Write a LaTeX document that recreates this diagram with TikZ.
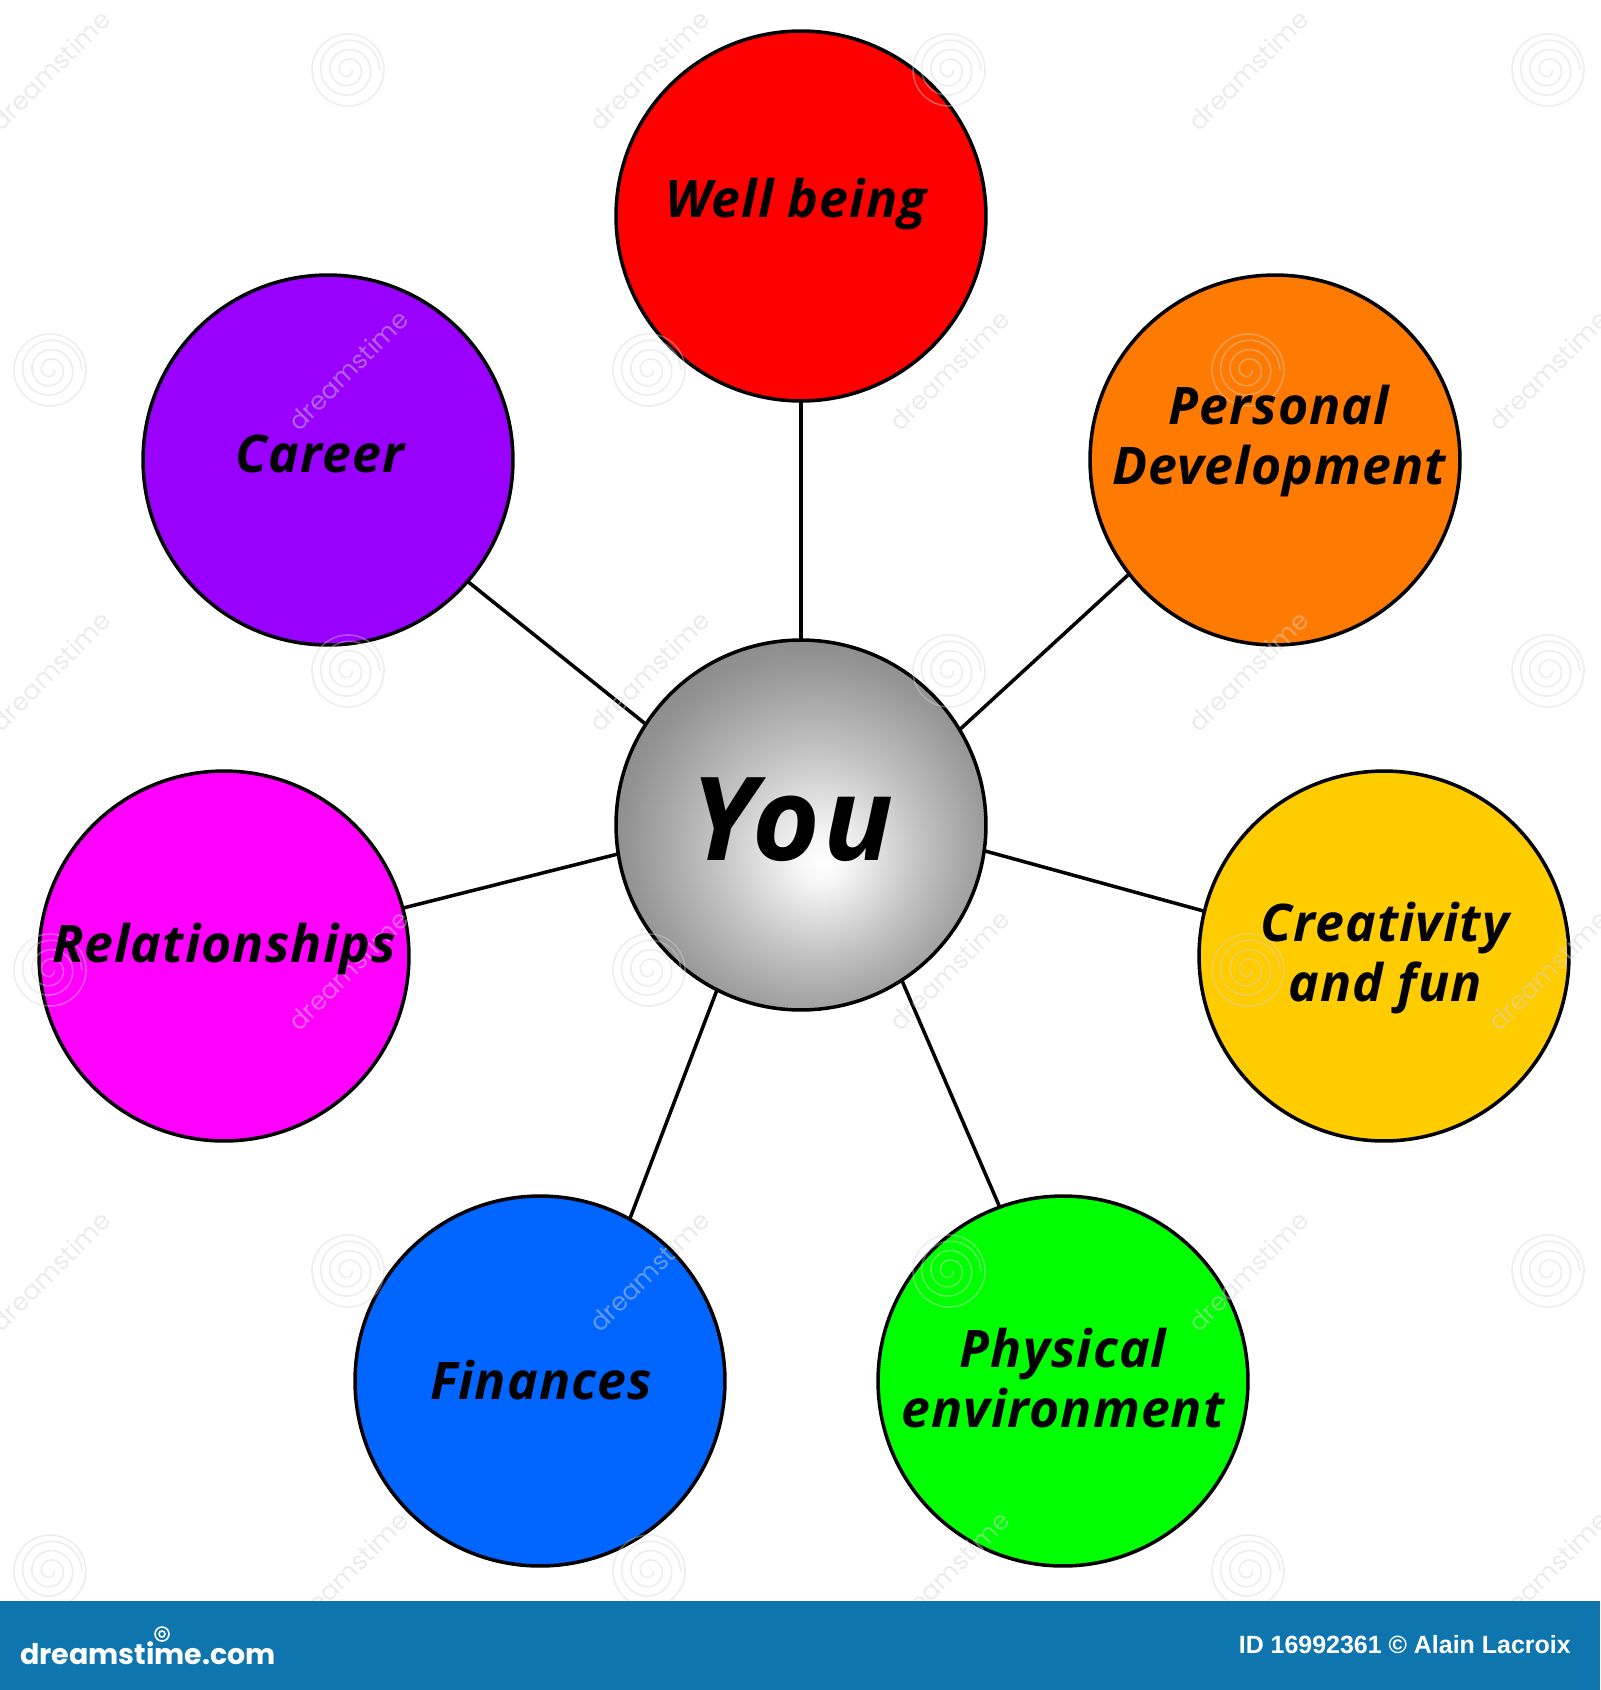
\documentclass[tikz,border=0pt]{standalone}
\usepackage{fontspec}
\setmainfont{Open Sans}
\newfontfamily\handfont[ItalicFont={Open Sans Italic},BoldItalicFont={Open Sans Bold Italic},LetterSpace=2]{Open Sans}
\newfontfamily\idfont{Liberation Sans}
\newfontfamily\logofont{Poppins}
\pgfdeclareradialshading{youshade}{\pgfpoint{3bp}{-5bp}}{%
  rgb(0bp)=(1,1,1);rgb(3bp)=(.97,.97,.97);rgb(14bp)=(.76,.76,.76);rgb(25bp)=(.58,.58,.58);rgb(35bp)=(.47,.47,.47);rgb(50bp)=(.45,.45,.45)}
\definecolor{cRed}{HTML}{FF0000}
\definecolor{cOrange}{HTML}{FF7A00}
\definecolor{cYellow}{HTML}{FFCC00}
\definecolor{cGreen}{HTML}{00FF00}
\definecolor{cBlue}{HTML}{0066FF}
\definecolor{cMagenta}{HTML}{FF00FF}
\definecolor{cPurple}{HTML}{9900FF}
\definecolor{cBar}{HTML}{0F75AE}
\definecolor{cMark}{HTML}{D4D4D4}
\tikzset{
  x=0.02cm,y=-0.02cm,
  ball/.style={circle,draw=black,line width=2pt,minimum size=7.4cm,inner sep=0pt,outer sep=0pt},
  link/.style={draw=black,line width=2pt},
  lab/.style={font=\handfont\bfseries\itshape\fontsize{29.5}{34.5}\selectfont,align=center,text=black,inner sep=0pt},
  markline/.style={draw=cMark,line width=.9pt,opacity=.4},
  marktext/.style={font=\logofont\fontsize{14.5}{16}\selectfont,text=cMark,text opacity=.45,rotate=45,inner sep=0pt}
}
\begin{document}
\begin{tikzpicture}
\useasboundingbox (0,0) rectangle (1600,1690);
\fill[white] (0,0) rectangle (1600,1690);
% circles
\node[ball,fill=cRed] (well) at (801,216) {};
\node[ball,fill=cOrange] (pers) at (1275,460) {};
\node[ball,fill=cYellow] (crea) at (1384,956) {};
\node[ball,fill=cGreen] (phys) at (1063,1381) {};
\node[ball,fill=cBlue] (fina) at (540,1381) {};
\node[ball,fill=cMagenta] (rela) at (224,956) {};
\node[ball,fill=cPurple] (care) at (328,460) {};
\node[ball,shading=youshade] (you) at (801,825) {};
% connectors
\draw[link] (well.south) -- (you.north);
\draw[link] (pers.218) -- (you.31);
\draw[link] (crea.166) -- (you.-8);
\draw[link] (phys.110) -- (you.-57);
\draw[link] (fina.61) -- (you.243);
\draw[link] (rela.15) -- (you.189);
\draw[link] (care.-41) -- (you.147);
% watermark
\foreach \px/\py in {348/70,949/70,1548/70,348/671,949/671,1548/671,348/1271,949/1271,1548/1271,50/370,649/370,1248/370,50/970,649/970,1248/970,50/1571,649/1571,1248/1571}{
  \begin{scope}[shift={(\px,\py)}]
    \draw[markline] plot[smooth,domain=0:1080,samples=55] ({(4+\x*0.026)*cos(\x)},{(4+\x*0.026)*sin(\x)});
    \draw[markline] (0,0) circle[radius=36];
  \end{scope}
}
\foreach \px/\py [count=\n] in {50/70,649/70,1248/70,50/671,649/671,1248/671,50/1271,649/1271,1248/1271,348/370,949/370,1548/370,348/970,949/970,1548/970,348/1571,949/1571,1548/1571}{
  \node[marktext] (mark\n) at (\px,\py) {dreamstime};
}
% labels
\node[lab] (tWell) at (796,204) {Well being};
\node[lab] (tPers) at (1279,441) {Personal\\Development};
\node[lab] (tCrea) at (1385,958) {Creativity\\and fun};
\node[lab] (tPhys) at (1063,1378) {Physical\\environment};
\node[lab] (tFina) at (541,1380) {Finances};
\node[lab] (tRela) at (224,949) {Relationships};
\node[lab] (tCare) at (320,454) {Career};
\node[lab,font=\handfont\bfseries\itshape\fontsize{66}{72}\selectfont] (tYou) at (792,820) {You};
% footer
\fill[cBar] (0,1601) rectangle (1600,1690);
\node[font=\logofont\bfseries\fontsize{16.2}{20}\selectfont,text=white,anchor=west,inner sep=0pt] (logo) at (20,1653) {dreamstime.com};
\draw[white,line width=.9pt] (162,1634) circle[radius=7];
\draw[white,line width=.9pt] (162,1634) circle[radius=3];
\node[font=\idfont\bfseries\fontsize{14.2}{16}\selectfont,text=white,anchor=east,inner sep=0pt] (id) at (1571,1645) {ID 16992361 © Alain Lacroix};
\end{tikzpicture}
\end{document}
